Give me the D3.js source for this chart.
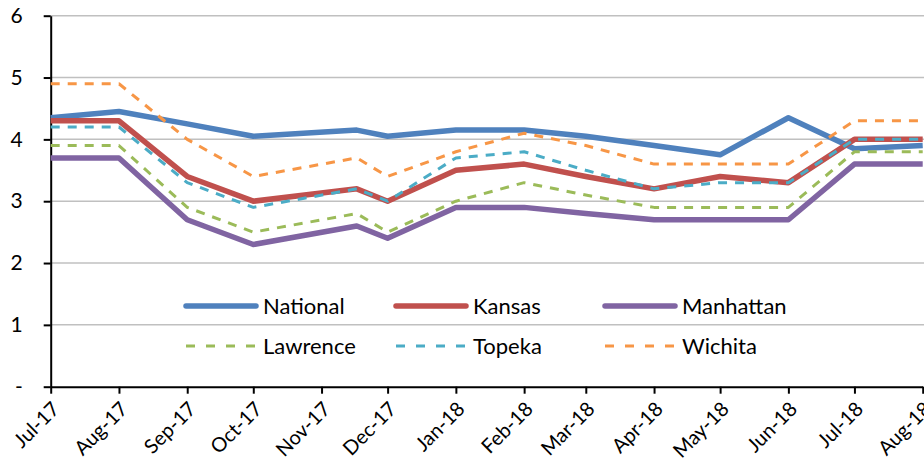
<!DOCTYPE html>
<html>
<head>
<meta charset="utf-8">
<script src="https://cdn.jsdelivr.net/npm/d3@7"></script>
<style>
  html, body { margin: 0; padding: 0; background: #fff; }
  svg { display: block; font-family: Lato, "Open Sans", sans-serif; }
</style>
</head>
<body>
<svg id="chart" width="924" height="476"></svg>
<script>
// ---- Data ----
const dates = ["2017-07-01","2017-08-01","2017-09-01","2017-10-01","2017-11-17","2017-12-01",
               "2018-01-01","2018-02-01","2018-03-01","2018-04-01","2018-05-01","2018-06-01",
               "2018-07-01","2018-08-01"];
const tickMonths = ["2017-07-01","2017-08-01","2017-09-01","2017-10-01","2017-11-01","2017-12-01",
                    "2018-01-01","2018-02-01","2018-03-01","2018-04-01","2018-05-01","2018-06-01",
                    "2018-07-01","2018-08-01"];
const tickLabels = ["Jul-17","Aug-17","Sep-17","Oct-17","Nov-17","Dec-17","Jan-18","Feb-18",
                    "Mar-18","Apr-18","May-18","Jun-18","Jul-18","Aug-18"];
const yTicks = [0, 1, 2, 3, 4, 5, 6];
const yTickLabels = ["-", "1", "2", "3", "4", "5", "6"];

const national  = [4.35, 4.45, 4.25, 4.05, 4.15, 4.05, 4.15, 4.15, 4.05, 3.9, 3.75, 4.35, 3.85, 3.9];
const kansas    = [4.3, 4.3, 3.4, 3.0, 3.2, 3.0, 3.5, 3.6, 3.4, 3.2, 3.4, 3.3, 4.0, 4.0];
const manhattan = [3.7, 3.7, 2.7, 2.3, 2.6, 2.4, 2.9, 2.9, 2.8, 2.7, 2.7, 2.7, 3.6, 3.6];
const lawrence  = [3.9, 3.9, 2.9, 2.5, 2.8, 2.5, 3.0, 3.3, 3.1, 2.9, 2.9, 2.9, 3.8, 3.8];
const topeka    = [4.2, 4.2, 3.3, 2.9, 3.2, 3.0, 3.7, 3.8, 3.5, 3.2, 3.3, 3.3, 4.0, 4.0];
const wichita   = [4.9, 4.9, 4.0, 3.4, 3.7, 3.4, 3.8, 4.1, 3.9, 3.6, 3.6, 3.6, 4.3, 4.3];

const seriesNames  = ["National", "Kansas", "Manhattan", "Lawrence", "Topeka", "Wichita"];
const seriesValues = [national, kansas, manhattan, lawrence, topeka, wichita];
const seriesColors = ["#4f81bd", "#c0504d", "#8064a2", "#9bbb59", "#4bacc6", "#f79646"];
const seriesDashed = [false, false, false, true, true, true];

// ---- Layout ----
const svg = d3.select("#chart");
const plotLeft = 50.7, plotRight = 922.7, plotTop = 15.7, plotBottom = 386.7;
const parse = d3.utcParse("%Y-%m-%d");

const x = d3.scaleUtc()
  .domain([parse(tickMonths[0]), parse(tickMonths[tickMonths.length - 1])])
  .range([plotLeft, plotRight]);
const y = d3.scaleLinear().domain([0, 6]).range([plotBottom, plotTop]);

// gridlines
svg.append("g").selectAll("line")
  .data(yTicks.filter(d => d > 0))
  .join("line")
  .attr("x1", plotLeft).attr("x2", 924)
  .attr("y1", d => y(d)).attr("y2", d => y(d))
  .attr("stroke", "#c0c0c0").attr("stroke-width", 1.5);

// y axis
const yAxis = d3.axisLeft(y).tickValues(yTicks)
  .tickFormat((d, i) => yTickLabels[i]).tickSize(7).tickSizeOuter(0).tickPadding(21);
const gy = svg.append("g").attr("transform", `translate(${plotLeft},0)`).call(yAxis);
gy.select(".domain").attr("stroke", "#000").attr("stroke-width", 2);
gy.selectAll(".tick line").attr("stroke", "#000").attr("stroke-width", 2);
gy.selectAll(".tick text").attr("font-size", 21).attr("fill", "#000")
  .attr("font-family", "Lato, sans-serif");

// x axis
const xAxis = d3.axisBottom(x).tickValues(tickMonths.map(parse))
  .tickFormat((d, i) => tickLabels[i]).tickSize(7).tickSizeOuter(0);
const gx = svg.append("g").attr("transform", `translate(0,${plotBottom})`).call(xAxis);
gx.select(".domain").attr("stroke", "#000").attr("stroke-width", 2);
gx.selectAll(".tick line").attr("stroke", "#000").attr("stroke-width", 2);
gx.selectAll(".tick text")
  .attr("font-size", 20).attr("fill", "#000").attr("font-family", "Lato, sans-serif")
  .attr("text-anchor", "end")
  .attr("dy", null).attr("y", null)
  .attr("transform", "translate(6,20) rotate(-45)")
  .attr("dominant-baseline", "middle");

// lines
const line = d3.line()
  .x((d, i) => x(parse(dates[i])))
  .y(d => y(d));

seriesValues.forEach((vals, k) => {
  svg.append("path")
    .datum(vals)
    .attr("d", line)
    .attr("fill", "none")
    .attr("stroke", seriesColors[k])
    .attr("stroke-width", seriesDashed[k] ? 3 : 5.5)
    .attr("stroke-dasharray", seriesDashed[k] ? "9,8" : null)
    .attr("stroke-linejoin", "round");
});

// legend
const legX = [186, 396, 605];
const legY = [306, 346];
seriesNames.forEach((name, k) => {
  const col = k % 3, row = Math.floor(k / 3);
  const g = svg.append("g").attr("transform", `translate(${legX[col]},${legY[row]})`);
  g.append("line")
    .attr("x1", 0).attr("x2", 70).attr("y1", 0).attr("y2", 0)
    .attr("stroke", seriesColors[k])
    .attr("stroke-width", seriesDashed[k] ? 3 : 5.5)
    .attr("stroke-linecap", seriesDashed[k] ? "butt" : "round")
    .attr("stroke-dasharray", seriesDashed[k] ? "9,11" : null);
  g.append("text")
    .attr("x", 77).attr("y", 0).attr("dy", "0.36em")
    .attr("font-size", 22).attr("fill", "#000")
    .text(name);
});
</script>
</body>
</html>
